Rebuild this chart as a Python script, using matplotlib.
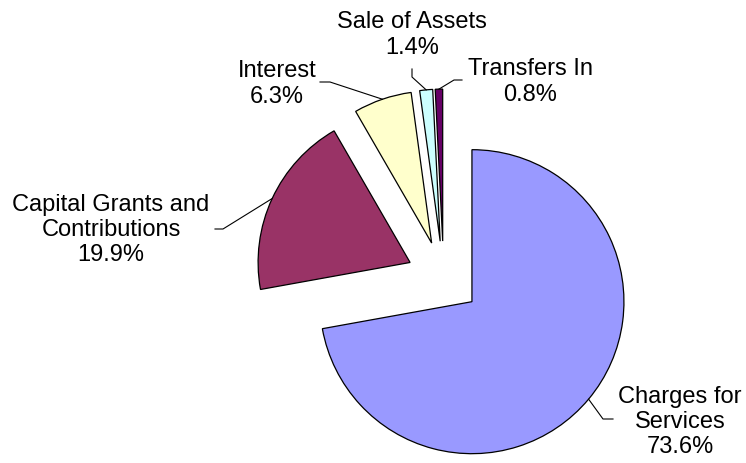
import numpy as np
import matplotlib
matplotlib.use('Agg')
import matplotlib.pyplot as plt

# Data
categories = ['Charges for\nServices', 'Capital Grants and\nContributions',
              'Interest', 'Sale of Assets', 'Transfers In']
shares = [73.6, 19.9, 6.3, 1.4, 0.8]
colors = ['#9999FF', '#993366', '#FFFFCC', '#CCFFFF', '#660066']

# Label layout (pixel coords, y up): text centre, knee of leader, end of leader
label_pos = [(680, 42), (111, 234), (277, 380), (412, 429), (530, 382)]
knee_pos = [(603, 44), (223, 234), (330, 381), (412, 386), (454, 383)]
end_pos = [(613, 44), (215, 234), (320, 381), (412, 394), (462, 383)]

W, H = 746, 464
fig = plt.figure(figsize=(W / 100, H / 100), dpi=100)
ax = fig.add_axes([0, 0, 1, 1])

center = (443.6, 185)
radius = 152
# pie explode is in data units, so scale by the radius
explode = [0.243 * radius] * len(shares)
wedges, _ = ax.pie(shares, colors=colors, startangle=90, counterclock=False,
                   explode=explode, radius=radius, center=center,
                   wedgeprops=dict(edgecolor='black', linewidth=0.9))

ax.set_xlim(0, W)
ax.set_ylim(0, H)
ax.set_aspect('equal')
ax.axis('off')

for w, name, pct, lp, kp, ep in zip(wedges, categories, shares, label_pos, knee_pos, end_pos):
    mid = np.deg2rad((w.theta1 + w.theta2) / 2)
    cx, cy = w.center
    ax_pt = (cx + w.r * np.cos(mid), cy + w.r * np.sin(mid))
    ax.plot([ax_pt[0], kp[0], ep[0]], [ax_pt[1], kp[1], ep[1]], color='black', lw=0.8)
    ax.text(lp[0], lp[1], f'{name}\n{pct:.1f}%', ha='center', va='center',
            fontsize=17, family='Liberation Sans', linespacing=1.2)

fig.savefig('out.png', dpi=100)
